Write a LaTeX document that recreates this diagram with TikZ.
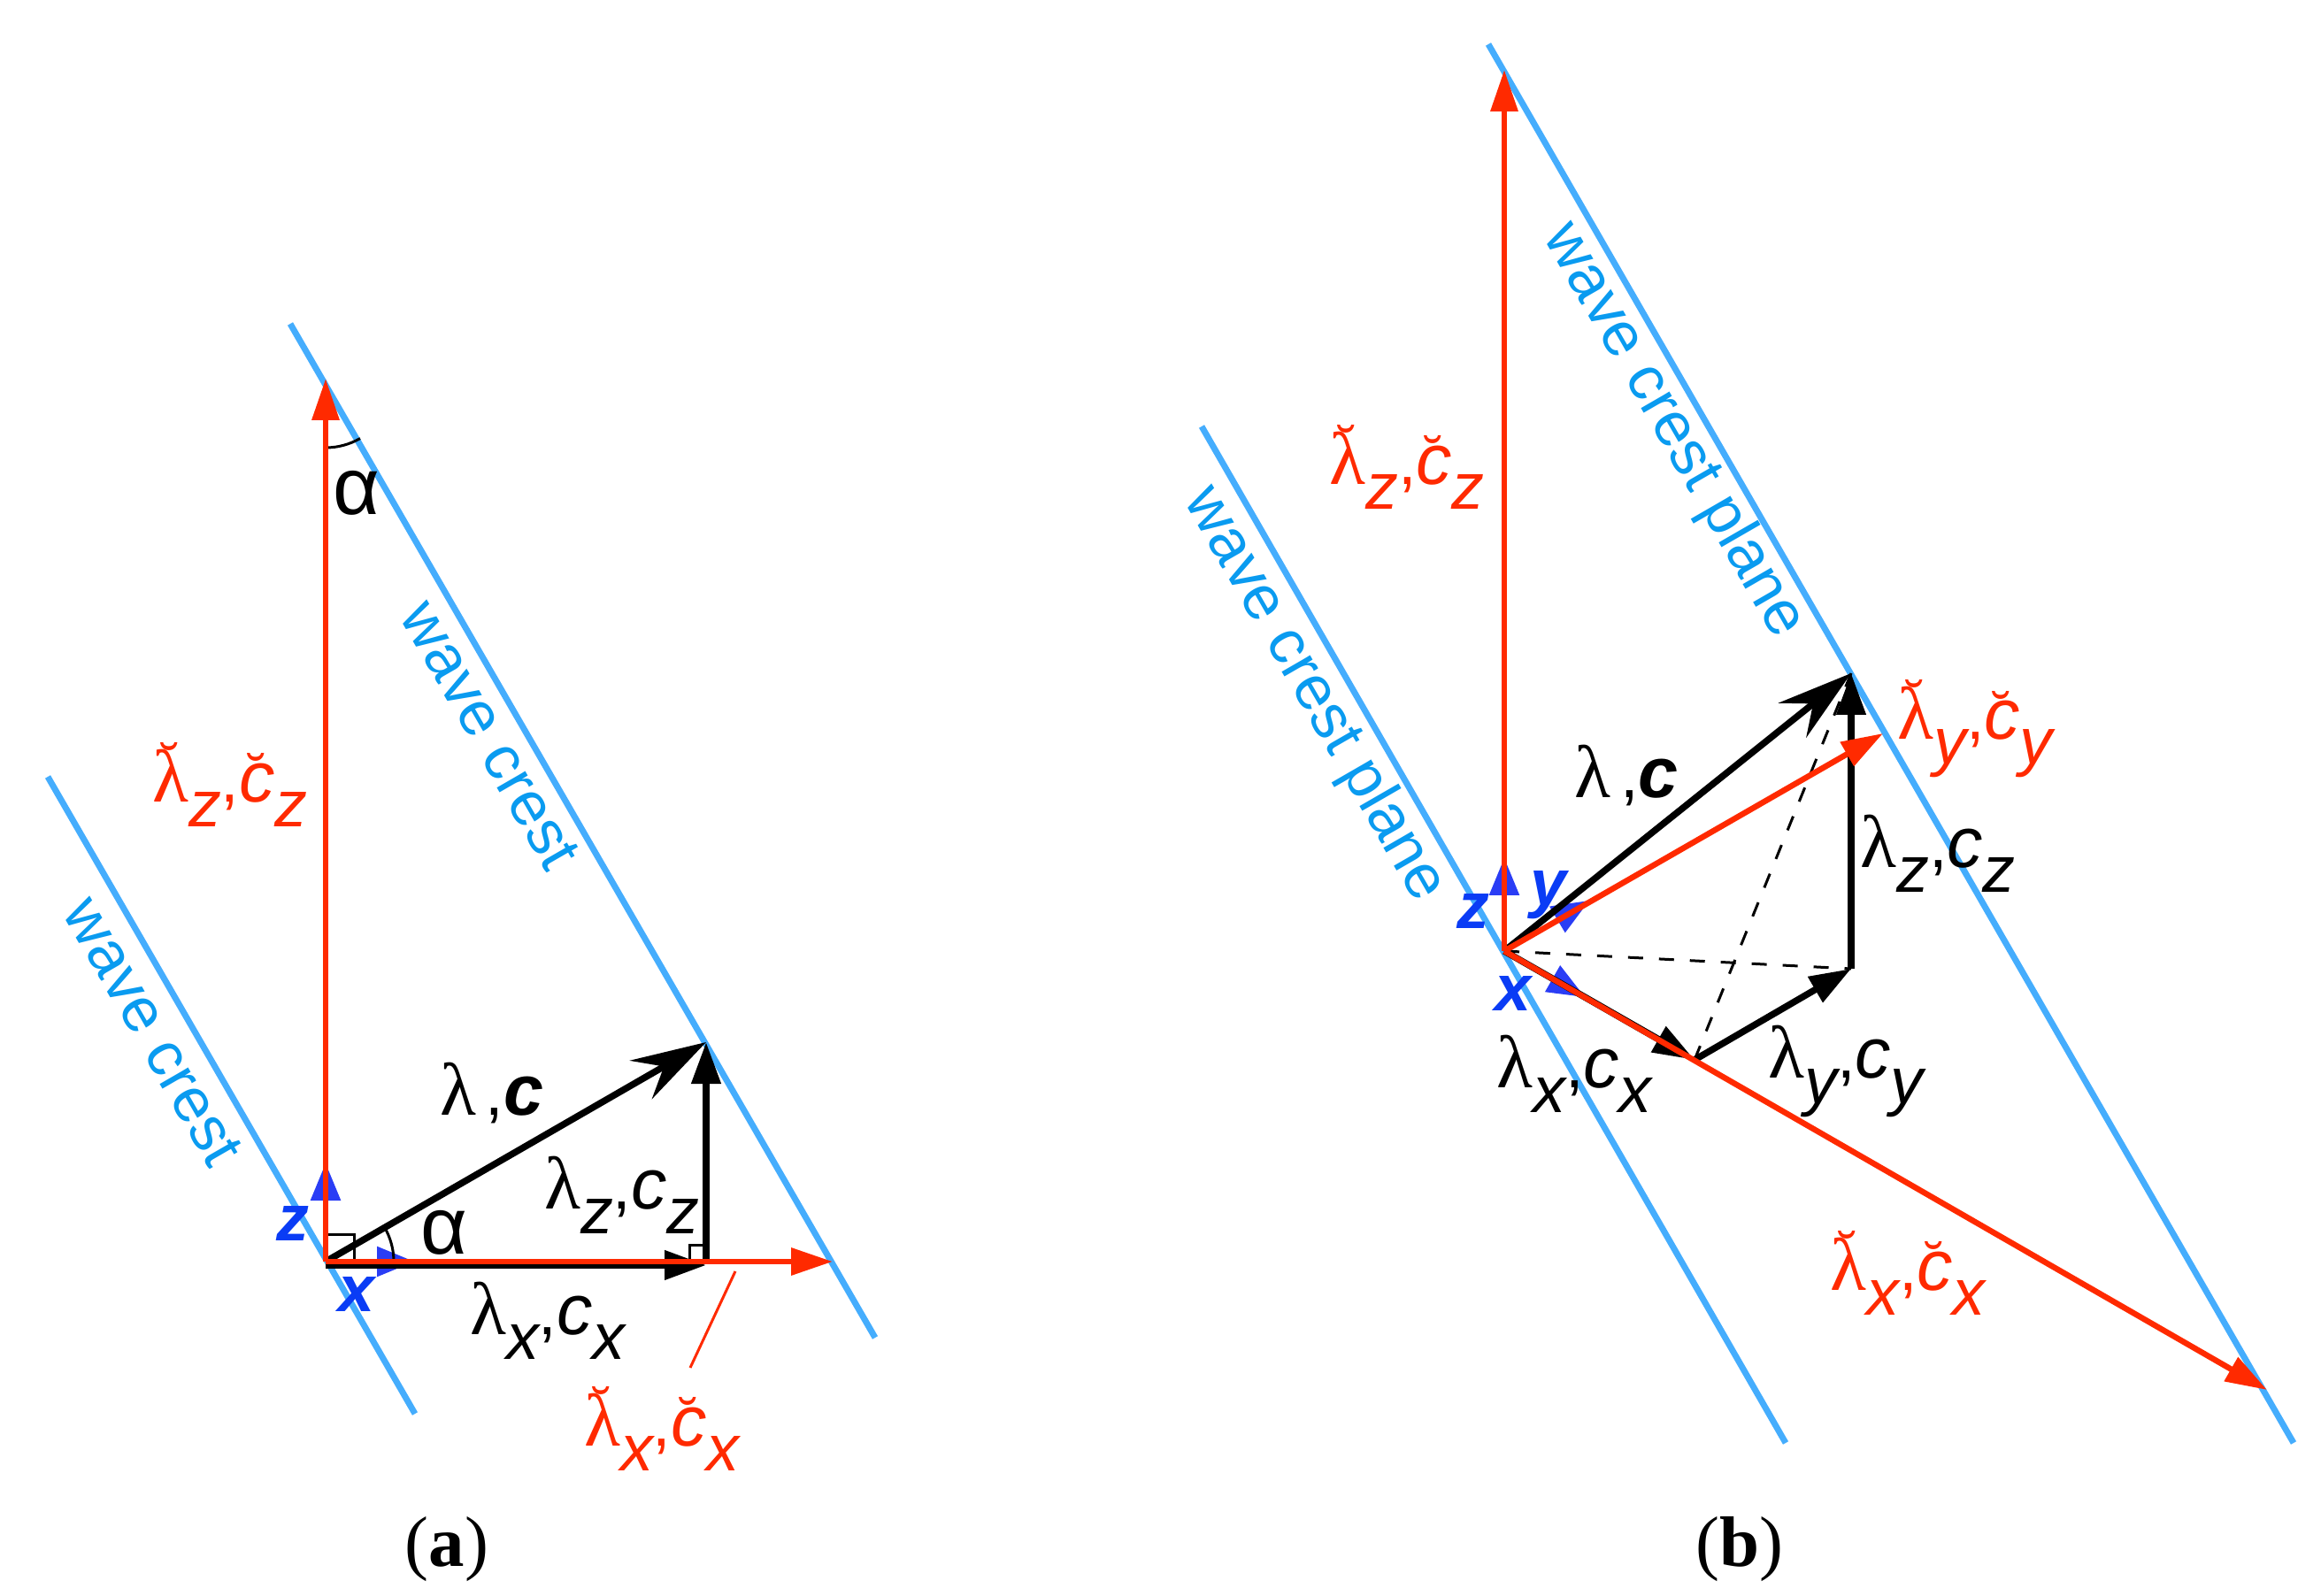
\documentclass[tikz,border=0pt]{standalone}
\usepackage{fontspec}
\setmainfont{Liberation Sans}
\newfontfamily\greekf{Liberation Serif}
\usepackage{xcolor}
\usetikzlibrary{arrows.meta}
\definecolor{crestblue}{HTML}{45ADFD}
\definecolor{cresttext}{HTML}{0A9BF0}
\definecolor{axisblue}{HTML}{2A3DF5}
\definecolor{axistext}{HTML}{0A3CF5}
\definecolor{vecred}{HTML}{FF2A00}
\newcommand{\lam}{{\greekf\fontsize{24}{28}\selectfont λ}}
\newcommand{\cee}{{\fontsize{23}{28}\selectfont\itshape c}}
\newcommand{\cma}{{\fontsize{21}{28}\selectfont ,}}
\newcommand{\sbs}[1]{\raisebox{-8pt}{\fontsize{21}{24}\selectfont\itshape #1}}
\newcommand{\lc}[1]{\lam\sbs{#1}\cma\cee\sbs{#1}}
\newcommand{\brvover}[2]{{\setbox0\hbox{#1}\leavevmode\rlap{\hbox to \wd0{\hss\raisebox{#2}{\fontsize{17}{20}\selectfont ˘}\hss}}\box0}}
\newcommand{\blc}[1]{\brvover{\lam}{6.5pt}\sbs{#1}\cma\brvover{\cee}{3pt}\sbs{#1}}
\newcommand{\lamvec}{\lam\hspace{3pt}\cma{\fontsize{23}{28}\selectfont\bfseries\itshape c}}
\tikzset{
  crest/.style={draw=crestblue,line width=0.07cm},
  cresttag/.style={text=cresttext,font=\fontsize{20}{24}\selectfont,rotate=-60,inner sep=0pt},
  blackvec/.style={draw=black,line width=0.075cm,-{Triangle[length=0.47cm,width=0.32cm]}},
  lenvec/.style={draw=black,line width=0.075cm,-{Stealth[length=0.85cm,width=0.5cm,inset=0.3cm]}},
  redvec/.style={draw=vecred,line width=0.065cm,-{Triangle[length=0.47cm,width=0.3cm]}},
  axisvec/.style={draw=axisblue,line width=0.025cm,-{Triangle[length=0.42cm,width=0.34cm]}},
  axistag/.style={text=axistext,font=\fontsize{21}{24}\selectfont\bfseries\itshape,inner sep=0pt},
  thinline/.style={draw=black,line width=0.03cm},
  dashline/.style={draw=black,line width=0.03cm,dash pattern=on 0.17cm off 0.18cm},
  blacktag/.style={text=black,inner sep=0pt},
  redtag/.style={text=vecred,inner sep=0pt},
  angletag/.style={text=black,font=\fontsize{26}{30}\selectfont,inner sep=0pt},
  panel/.style={font=\fontsize{23}{28}\selectfont\greekf,inner sep=0pt}
}
\begin{document}
\begin{tikzpicture}
	\useasboundingbox (0,0) rectangle (26.23,18.03);
	% panel a
	\coordinate (Oa) at (3.68,3.77);
	\coordinate (topa) at (3.68,13.75);
	\coordinate (righta) at (9.41,3.77);
	\coordinate (apexa) at (7.98,6.25);
	\coordinate (foota) at (7.98,3.77);
	\coordinate (zaxa) at (3.68,4.88);
	\coordinate (xaxa) at (4.68,3.77);
	\coordinate (crestAa) at (3.28,14.37);
	\coordinate (crestAb) at (9.89,2.91);
	\coordinate (crestBa) at (0.54,9.25);
	\coordinate (crestBb) at (4.69,2.05);
	\coordinate (leada) at (8.31,3.66);
	\coordinate (leadb) at (7.80,2.57);
	\draw[crest] (crestAa) -- (crestAb);
	\draw[crest] (crestBa) -- (crestBb);
	\draw[axisvec] (Oa) -- (zaxa);
	\draw[axisvec] (Oa) -- (xaxa);
	\draw[thinline] (3.68,4.08) -| (4.00,3.77);
	\draw[thinline] (7.79,3.77) |- (7.98,3.96);
	\draw[thinline] (4.45,3.77) arc (0:30:0.77);
	\draw[thinline] (topa) ++(-90:0.78) arc (-90:-60:0.78);
	\draw[blackvec] ([yshift=-0.04cm]Oa) -- ([yshift=-0.04cm]foota);
	\draw[blackvec] (foota) -- (apexa);
	\draw[lenvec] (Oa) -- (apexa);
	\draw[redvec] (Oa) -- (topa);
	\draw[redvec] (Oa) -- (righta);
	\draw[draw=vecred,line width=0.03cm] (leada) -- (leadb);
	\node[axistag] (zlaba) at (3.31,4.20) {z};
	\node[axistag] (xlaba) at (4.03,3.40) {x};
	\node[blacktag] (lamca) at (5.56,5.67) {\lamvec};
	\node[angletag] (alphalow) at (5.02,4.10) {α};
	\node[angletag] (alphatop) at (4.03,12.46) {α};
	\node[blacktag] (lamza) at (7.03,4.52) {\lc{z}};
	\node[blacktag] (lamxa) at (6.19,3.10) {\lc{x}};
	\node[redtag] (redxa) at (7.48,1.88) {\color{vecred}\blc{x}};
	\node[redtag] (redza) at (2.60,9.16) {\color{vecred}\blc{z}};
	\node[cresttag] (tagAa) at (5.54,9.72) {wave crest};
	\node[cresttag] (tagBa) at (1.73,6.37) {wave crest};
	\node[panel] (capa) at (5.05,0.52) {(\textbf{a})};
	% panel b
	\coordinate (Ob) at (17.00,7.28);
	\coordinate (topb) at (17.00,17.24);
	\coordinate (apexb) at (20.92,10.42);
	\coordinate (baseb) at (20.92,7.08);
	\coordinate (vertb) at (19.15,6.05);
	\coordinate (redxb) at (25.62,2.32);
	\coordinate (redyb) at (21.28,9.74);
	\coordinate (zaxb) at (17.00,8.33);
	\coordinate (yaxb) at (17.96,7.85);
	\coordinate (xaxb) at (17.91,6.76);
	\coordinate (crestCa) at (16.82,17.53);
	\coordinate (crestCb) at (25.92,1.72);
	\coordinate (crestDa) at (13.58,13.21);
	\coordinate (crestDb) at (20.18,1.72);
	\draw[crest] (crestCa) -- (crestCb);
	\draw[crest] (crestDa) -- (crestDb);
	\draw[axisvec] (Ob) -- (zaxb);
	\draw[axisvec] (Ob) -- (yaxb);
	\draw[axisvec] (Ob) -- (xaxb);
	\draw[dashline] (Ob) -- (baseb);
	\draw[dashline] (vertb) -- (apexb);
	\draw[blackvec] (Ob) -- (vertb);
	\draw[blackvec] (vertb) -- (baseb);
	\draw[blackvec] (baseb) -- (apexb);
	\draw[lenvec] (Ob) -- (apexb);
	\draw[redvec] (Ob) -- (topb);
	\draw[redvec] (Ob) -- (redyb);
	\draw[redvec] (Ob) -- (redxb);
	\node[axistag] (zlabb) at (16.65,7.73) {z};
	\node[axistag] (ylabb) at (17.50,7.91) {y};
	\node[axistag] (xlabb) at (17.10,6.80) {x};
	\node[blacktag] (lamcb) at (18.38,9.26) {\lamvec};
	\node[blacktag] (lamzb) at (21.90,8.38) {\lc{z}};
	\node[blacktag] (lamxb) at (17.79,5.89) {\lc{x}};
	\node[blacktag] (lamyb) at (20.86,5.92) {\lc{y}};
	\node[redtag] (redzb) at (15.90,12.75) {\color{vecred}\blc{z}};
	\node[redtag] (redyl) at (22.32,9.79) {\color{vecred}\blc{y}};
	\node[redtag] (redxl) at (21.56,3.64) {\color{vecred}\blc{x}};
	\node[cresttag] (tagCb) at (18.91,13.16) {wave crest plane};
	\node[cresttag] (tagDb) at (14.85,10.18) {wave crest plane};
	\node[panel] (capb) at (19.66,0.52) {(\textbf{b})};
\end{tikzpicture}
\end{document}
